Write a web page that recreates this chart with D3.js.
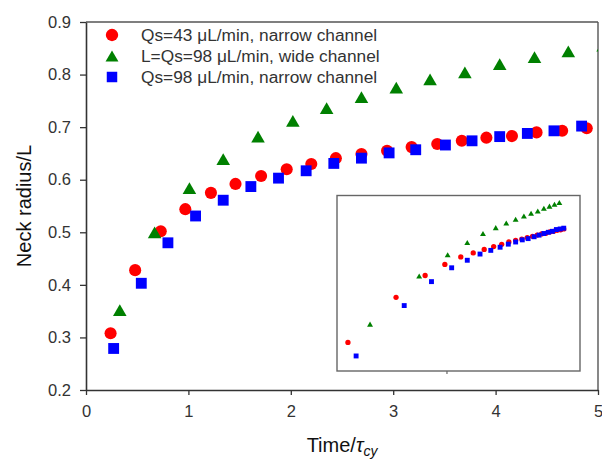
<!DOCTYPE html>
<html>
<head>
<meta charset="utf-8">
<script src="https://cdn.jsdelivr.net/npm/d3@7"></script>
<style>
  html, body { margin: 0; padding: 0; background: #fff; }
  svg { display: block; font-family: "Liberation Sans", Arial, sans-serif; }
</style>
</head>
<body>
<svg id="chart" width="602" height="461"></svg>
<script>
// ---- Data ----
const seriesNames = [
  "Qs=43 \u03BCL/min, narrow channel",
  "L=Qs=98 \u03BCL/min, wide channel",
  "Qs=98 \u03BCL/min, narrow channel"
];
const redX = [0.24, 0.48, 0.73, 0.97, 1.22, 1.46, 1.71, 1.96, 2.20, 2.44, 2.69, 2.94, 3.18, 3.43, 3.67, 3.91, 4.16, 4.40, 4.65, 4.89, 5.14, 5.38];
const redY = [0.308, 0.428, 0.502, 0.544, 0.575, 0.592, 0.607, 0.620, 0.630, 0.641, 0.649, 0.655, 0.662, 0.668, 0.674, 0.680, 0.683, 0.690, 0.693, 0.698, 0.701, 0.705];
const greenX = [0.33, 0.67, 1.01, 1.34, 1.68, 2.02, 2.35, 2.69, 3.03, 3.36, 3.70, 4.04, 4.38, 4.71, 5.05];
const greenY = [0.352, 0.500, 0.584, 0.639, 0.682, 0.712, 0.736, 0.757, 0.775, 0.791, 0.804, 0.820, 0.833, 0.844, 0.855];
const blueX = [0.27, 0.54, 0.80, 1.07, 1.34, 1.61, 1.88, 2.15, 2.42, 2.69, 2.96, 3.22, 3.51, 3.77, 4.04, 4.31, 4.57, 4.84, 5.11, 5.38];
const blueY = [0.279, 0.403, 0.480, 0.531, 0.561, 0.587, 0.603, 0.617, 0.631, 0.641, 0.651, 0.657, 0.666, 0.674, 0.682, 0.688, 0.693, 0.702, 0.705, 0.709];
const xTicks = [0, 1, 2, 3, 4, 5];
const yTicks = [0.2, 0.3, 0.4, 0.5, 0.6, 0.7, 0.8, 0.9];
const insetXTicks = [1];
const colors = ["#ff0000", "#008000", "#0000ff"];

// ---- Layout ----
const svg = d3.select("#chart");
const L = 86, R = 598, T = 22, B = 390;
const x = d3.scaleLinear().domain([0, 5]).range([L, R]);
const y = d3.scaleLinear().domain([0.2, 0.9]).range([B, T]);

// bbox-centred triangle symbol
const triBox = {
  draw(ctx, size) {
    const w = Math.sqrt(size * 4 / Math.sqrt(3)); // side length
    const h = w * Math.sqrt(3) / 2;
    ctx.moveTo(0, -h / 2);
    ctx.lineTo(w / 2, h / 2);
    ctx.lineTo(-w / 2, h / 2);
    ctx.closePath();
  }
};
const symTypes = [d3.symbolCircle, triBox, d3.symbolSquare];
const mainSizes = [115, 80, 118];
const insetSizes = [22, 15, 24];
const legendSizes = [120, 72, 110];

const series = [
  { xs: redX, ys: redY },
  { xs: greenX, ys: greenY },
  { xs: blueX, ys: blueY }
];

// clip for main plot
svg.append("defs").append("clipPath").attr("id", "plotclip")
  .append("rect").attr("x", L - 8).attr("y", T).attr("width", R - L + 8).attr("height", B - T + 8);

// frame (top & right)
svg.append("line").attr("x1", L).attr("x2", R).attr("y1", T).attr("y2", T)
  .attr("stroke", "#555").attr("stroke-width", 1.4);
svg.append("line").attr("x1", R).attr("x2", R).attr("y1", T).attr("y2", B)
  .attr("stroke", "#555").attr("stroke-width", 1.4);

// axes
const gx = svg.append("g").attr("transform", `translate(0,${B})`)
  .call(d3.axisBottom(x).tickValues(xTicks).tickFormat(d3.format("d")).tickSize(5).tickPadding(10).tickSizeOuter(0));
const gy = svg.append("g").attr("transform", `translate(${L},0)`)
  .call(d3.axisLeft(y).tickValues(yTicks).tickFormat(d3.format(".1f")).tickSize(6).tickPadding(9).tickSizeOuter(0));
[gx, gy].forEach(g => {
  g.select(".domain").attr("stroke", "#333").attr("stroke-width", 1.6);
  g.selectAll(".tick line").attr("stroke", "#333").attr("stroke-width", 1.3);
  g.selectAll(".tick text").attr("fill", "#333").style("font-size", "16.5px")
    .style("font-family", '"Liberation Sans", Arial, sans-serif');
});

// axis titles
svg.append("text").attr("transform", "translate(31,206) rotate(-90)")
  .attr("text-anchor", "middle").attr("fill", "#111").style("font-size", "20px")
  .text("Neck radius/L");
const xt = svg.append("text").attr("x", 342).attr("y", 452)
  .attr("text-anchor", "middle").attr("fill", "#111").style("font-size", "20px");
xt.append("tspan").text("Time/");
xt.append("tspan").style("font-style", "italic").text("\u03C4");
xt.append("tspan").style("font-style", "italic").style("font-size", "14px").attr("dy", 4).text("cy");

// main points
const gp = svg.append("g").attr("clip-path", "url(#plotclip)");
series.forEach((s, i) => {
  gp.append("g").selectAll("path").data(s.xs.map((v, k) => [v, s.ys[k]]))
    .join("path")
    .attr("transform", d => `translate(${x(d[0])},${y(d[1])})`)
    .attr("d", d3.symbol().type(symTypes[i]).size(mainSizes[i]))
    .attr("fill", colors[i]);
});

// legend
const legY = [35, 56, 77];
const lg = svg.append("g");
seriesNames.forEach((name, i) => {
  lg.append("path").attr("transform", `translate(112,${legY[i]})`)
    .attr("d", d3.symbol().type(symTypes[i]).size(legendSizes[i]))
    .attr("fill", colors[i]);
  lg.append("text").attr("x", 141).attr("y", legY[i] + 6)
    .attr("fill", "#333").style("font-size", "17.3px").text(name);
});

// inset (log-log)
const iL = 337, iR = 580, iT = 195.5, iB = 371;
const ix = d3.scaleLog().domain([0.205, 6.8]).range([iL, iR]);
const iy = d3.scaleLog().domain([0.25, 0.9]).range([iB, iT]);
svg.append("rect").attr("x", iL).attr("y", iT).attr("width", iR - iL).attr("height", iB - iT)
  .attr("fill", "#fff").attr("stroke", "#666").attr("stroke-width", 1.4);
svg.append("g").selectAll("line").data(insetXTicks).join("line")
  .attr("x1", d => ix(d)).attr("x2", d => ix(d)).attr("y1", iB).attr("y2", iB + 3)
  .attr("stroke", "#666").attr("stroke-width", 1.2);
series.forEach((s, i) => {
  svg.append("g").selectAll("path").data(s.xs.map((v, k) => [v, s.ys[k]]))
    .join("path")
    .attr("transform", d => `translate(${ix(d[0])},${iy(d[1])})`)
    .attr("d", d3.symbol().type(symTypes[i]).size(insetSizes[i]))
    .attr("fill", colors[i]);
});
</script>
</body>
</html>
